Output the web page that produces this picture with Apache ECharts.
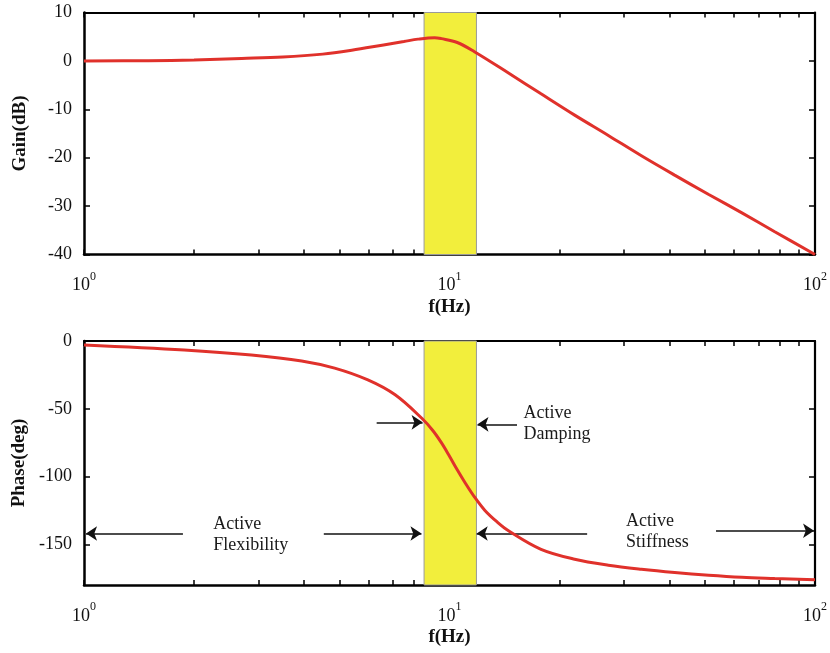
<!DOCTYPE html>
<html><head><meta charset="utf-8">
<script src="https://cdn.jsdelivr.net/npm/echarts@6/dist/echarts.min.js"></script>
<style>html,body{margin:0;padding:0;background:#fff}#c{width:830px;height:653px}</style>
</head><body><div id="c"></div>
<script>
// ---- data ----
const freqGain = [1, 1.5, 2, 2.7, 3.5, 4.5, 5.4, 6.6, 7.5, 8.2, 9.1, 9.5, 10.5, 11.7, 14.5, 17.8, 22, 27.2, 33.5, 41.3, 51.2, 63.1, 77.6, 100];
const gainDb   = [0, 0.05, 0.2, 0.5, 0.8, 1.4, 2.2, 3.3, 4.0, 4.5, 4.8, 4.6, 3.8, 1.9, -2.5, -6.8, -11.2, -15.4, -19.6, -23.6, -27.6, -31.4, -35.3, -40];
const freqPhase = [1, 1.88, 2.87, 3.94, 4.85, 5.98, 7.1, 8.4, 9.0, 9.5, 10.0, 10.5, 11.0, 11.7, 12.5, 13.5, 14.5, 17.8, 22, 27.2, 33.5, 41.3, 51.2, 63.1, 77.6, 100];
const phaseDeg  = [-2.9, -6.6, -10.3, -14.7, -20, -28.7, -39.7, -57, -66, -75, -85, -95, -104, -115, -125, -133.5, -140, -153.7, -161, -165.4, -168.4, -170.8, -172.8, -174.3, -175.2, -176.2];
const xTickValues = [1,2,3,4,5,6,7,8,9,10,20,30,40,50,60,70,80,90,100];
const xLabelValues = [1, 10, 100];
const gainTicks = [10, 0, -10, -20, -30, -40];
const phaseTicks = [0, -50, -100, -150];
const bandHz = [8.52, 11.85];
// arrows: [fromHz, fromDeg, toHz, toDeg]
const arrowLines = [
  [6.32, -60, 8.44, -60],
  [15.3, -61.5, 11.93, -61.5],
  [1.865, -142, 1.013, -142],
  [4.53, -142, 8.38, -142],
  [23.8, -142, 11.87, -142],
  [53.6, -140, 99.4, -140]
];
const noteTexts = ['Active\nDamping', 'Active\nFlexibility', 'Active\nStiffness'];
const notePos = [[15.9, -60.7], [2.25, -143], [30.3, -140.5]];

// ---- chart ----
const FONT = 'Liberation Serif';
const RED = '#e0312b';
const chart = echarts.init(document.getElementById('c'));

function xAxes(gridIndex) {
  const common = {
    type: 'log', logBase: 10, min: 1, max: 100, gridIndex: gridIndex,
    splitLine: { show: false },
    axisTick: { show: true, inside: true, length: 5, customValues: xTickValues, lineStyle: { color: '#000', width: 1.5 } },
  };
  return [
    Object.assign({}, common, {
      position: 'bottom',
      axisLine: { show: true, onZero: false, lineStyle: { color: '#000', width: 2.5 } },
      axisLabel: {
        show: true, margin: 16, customValues: xLabelValues,
        formatter: v => '{b|10}{s|' + Math.round(Math.log10(v)) + '}',
        rich: {
          b: { fontFamily: FONT, fontSize: 18, color: '#111', lineHeight: 24, verticalAlign: 'bottom' },
          s: { fontFamily: FONT, fontSize: 12, color: '#111', lineHeight: 24, verticalAlign: 'top', padding: [0, 0, 10, 0] }
        }
      },
      name: 'f(Hz)', nameLocation: 'middle', nameGap: 43,
      nameTextStyle: { fontFamily: FONT, fontSize: 19, fontWeight: 'bold', color: '#111' }
    }),
    Object.assign({}, common, {
      position: 'top',
      axisLine: { show: true, onZero: false, lineStyle: { color: '#000', width: 2.2 } },
      axisLabel: { show: false }
    })
  ];
}

function yAxes(gridIndex, min, max, ticks, name, gap) {
  const common = {
    type: 'value', min: min, max: max, gridIndex: gridIndex,
    splitLine: { show: false },
    axisTick: { show: true, inside: true, length: 6, customValues: ticks, lineStyle: { color: '#000', width: 1.5 } }
  };
  return [
    Object.assign({}, common, {
      position: 'left',
      axisLine: { show: true, onZero: false, lineStyle: { color: '#000', width: 2.5 } },
      axisLabel: { show: true, customValues: ticks, margin: 12, fontFamily: FONT, fontSize: 18, color: '#111' },
      name: name, nameLocation: 'middle', nameGap: gap,
      nameTextStyle: { fontFamily: FONT, fontSize: 19, fontWeight: 'bold', color: '#111' }
    }),
    Object.assign({}, common, {
      position: 'right',
      axisLine: { show: true, onZero: false, lineStyle: { color: '#000', width: 2.2 } },
      axisLabel: { show: false }
    })
  ];
}

const bandArea = {
  silent: true,
  itemStyle: { color: '#f2ee3c', borderColor: '#9a9a9a', borderWidth: 1 },
  data: [[{ xAxis: bandHz[0] }, { xAxis: bandHz[1] }]]
};

chart.setOption({
  animation: false,
  backgroundColor: '#fff',
  grid: [
    { left: 84, right: 15, top: 12.5, height: 242 },
    { left: 84, right: 15, top: 341, height: 244 }
  ],
  xAxis: [].concat(xAxes(0), xAxes(1)),
  yAxis: [].concat(
    yAxes(0, -40, 10, gainTicks, 'Gain(dB)', 54),
    yAxes(1, -180, 0, phaseTicks, 'Phase(deg)', 50)
  ),
  series: [
    {
      type: 'line', xAxisIndex: 0, yAxisIndex: 0,
      data: freqGain.map((f, i) => [f, gainDb[i]]),
      smooth: 0.35, showSymbol: false, symbol: 'none',
      lineStyle: { color: RED, width: 3 },
      markArea: bandArea, z: 5
    },
    {
      type: 'line', xAxisIndex: 2, yAxisIndex: 2,
      data: freqPhase.map((f, i) => [f, phaseDeg[i]]),
      smooth: 0.35, showSymbol: false, symbol: 'none',
      lineStyle: { color: RED, width: 3 },
      markArea: bandArea, z: 5,
      markLine: {
        silent: true, symbol: ['none', 'arrow'], symbolSize: 11,
        label: { show: false },
        lineStyle: { color: '#111', width: 1.5, type: 'solid' },
        emphasis: { disabled: true },
        data: arrowLines.map(a => [{ coord: [a[0], a[1]] }, { coord: [a[2], a[3]] }])
      },
      markPoint: {
        silent: true, symbol: 'circle', symbolSize: 1,
        itemStyle: { color: 'rgba(0,0,0,0)' },
        label: { show: true, position: 'right', distance: 0, fontFamily: FONT, fontSize: 18, lineHeight: 21, color: '#1a1a1a', align: 'left' },
        data: noteTexts.map((t, i) => ({ coord: notePos[i], value: 0, label: { formatter: t } }))
      }
    }
  ]
});
</script>
</body></html>
